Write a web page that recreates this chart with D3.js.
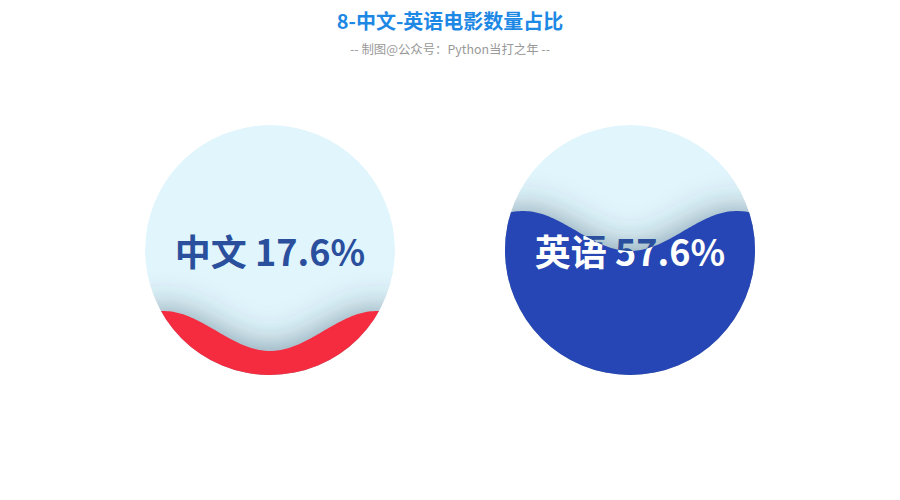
<!DOCTYPE html>
<html>
<head>
<meta charset="utf-8">
<script src="https://cdn.jsdelivr.net/npm/d3@7/dist/d3.min.js"></script>
<style>
  body { margin: 0; background: #fff; }
  svg { display: block; font-family: "Noto Sans CJK SC", "Noto Sans", sans-serif; }
</style>
</head>
<body>
<svg id="chart" width="900" height="500"></svg>
<script>
// chart data
const names = ['中文', '英语'];
const values = [0.176, 0.576];
const waveColors = ['#F52B3F', '#2646B6'];
const centersX = [270, 630];

const title = '8-中文-英语电影数量占比';
const subtitle = '-- 制图@公众号：Python当打之年 --';

const width = 900, height = 500;
const cy = 250, r = 125;
const amp = 20, period = 214;

const svg = d3.select('#chart');
const defs = svg.append('defs');

defs.append('filter')
  .attr('id', 'waveShadow')
  .attr('x', '-50%').attr('y', '-50%')
  .attr('width', '200%').attr('height', '200%')
  .append('feGaussianBlur')
  .attr('stdDeviation', 18);

// title
svg.append('text')
  .attr('x', width / 2).attr('y', 29)
  .attr('text-anchor', 'middle')
  .attr('font-size', 20).attr('font-weight', 'bold')
  .attr('fill', '#1E88E5')
  .text(title);

svg.append('text')
  .attr('x', width / 2).attr('y', 54)
  .attr('text-anchor', 'middle')
  .attr('font-size', 12.4)
  .attr('fill', '#999')
  .text(subtitle);

// level scale: 0 -> bottom of circle, 1 -> top
const levelY = d3.scaleLinear().domain([0, 1]).range([cy + r, cy - r]);

function wavePath(cx, v) {
  const base = levelY(v);
  const xs = d3.range(cx - r - 40, cx + r + 41, 2);
  const pts = xs.map(x => [x, base + amp * Math.cos(2 * Math.PI * (x - cx) / period)]);
  pts.push([cx + r + 40, cy + r + 60], [cx - r - 40, cy + r + 60]);
  return d3.line()(pts) + 'Z';
}

names.forEach((name, i) => {
  const cx = centersX[i];
  const v = values[i];
  const label = name + ' ' + d3.format('.1%')(v);

  defs.append('clipPath').attr('id', 'circ' + i)
    .append('circle').attr('cx', cx).attr('cy', cy).attr('r', r);
  defs.append('clipPath').attr('id', 'wave' + i)
    .append('path').attr('d', wavePath(cx, v));

  const g = svg.append('g').attr('clip-path', `url(#circ${i})`);

  g.append('circle')
    .attr('cx', cx).attr('cy', cy).attr('r', r)
    .attr('fill', '#E1F5FC');

  // soft shadow of the wave
  g.append('path')
    .attr('d', wavePath(cx, v))
    .attr('fill', 'rgba(40,70,90,0.55)')
    .attr('filter', 'url(#waveShadow)');

  g.append('path')
    .attr('d', wavePath(cx, v))
    .attr('fill', waveColors[i]);

  const txt = (sel, color) => sel.append('text')
    .attr('x', cx).attr('y', cy)
    .attr('text-anchor', 'middle')
    .attr('dominant-baseline', 'central')
    .attr('font-size', 36).attr('font-weight', 'bold')
    .attr('fill', color)
    .text(label);

  txt(g, '#2A4F9C');
  txt(g.append('g').attr('clip-path', `url(#wave${i})`), '#fff');
});
</script>
</body>
</html>
